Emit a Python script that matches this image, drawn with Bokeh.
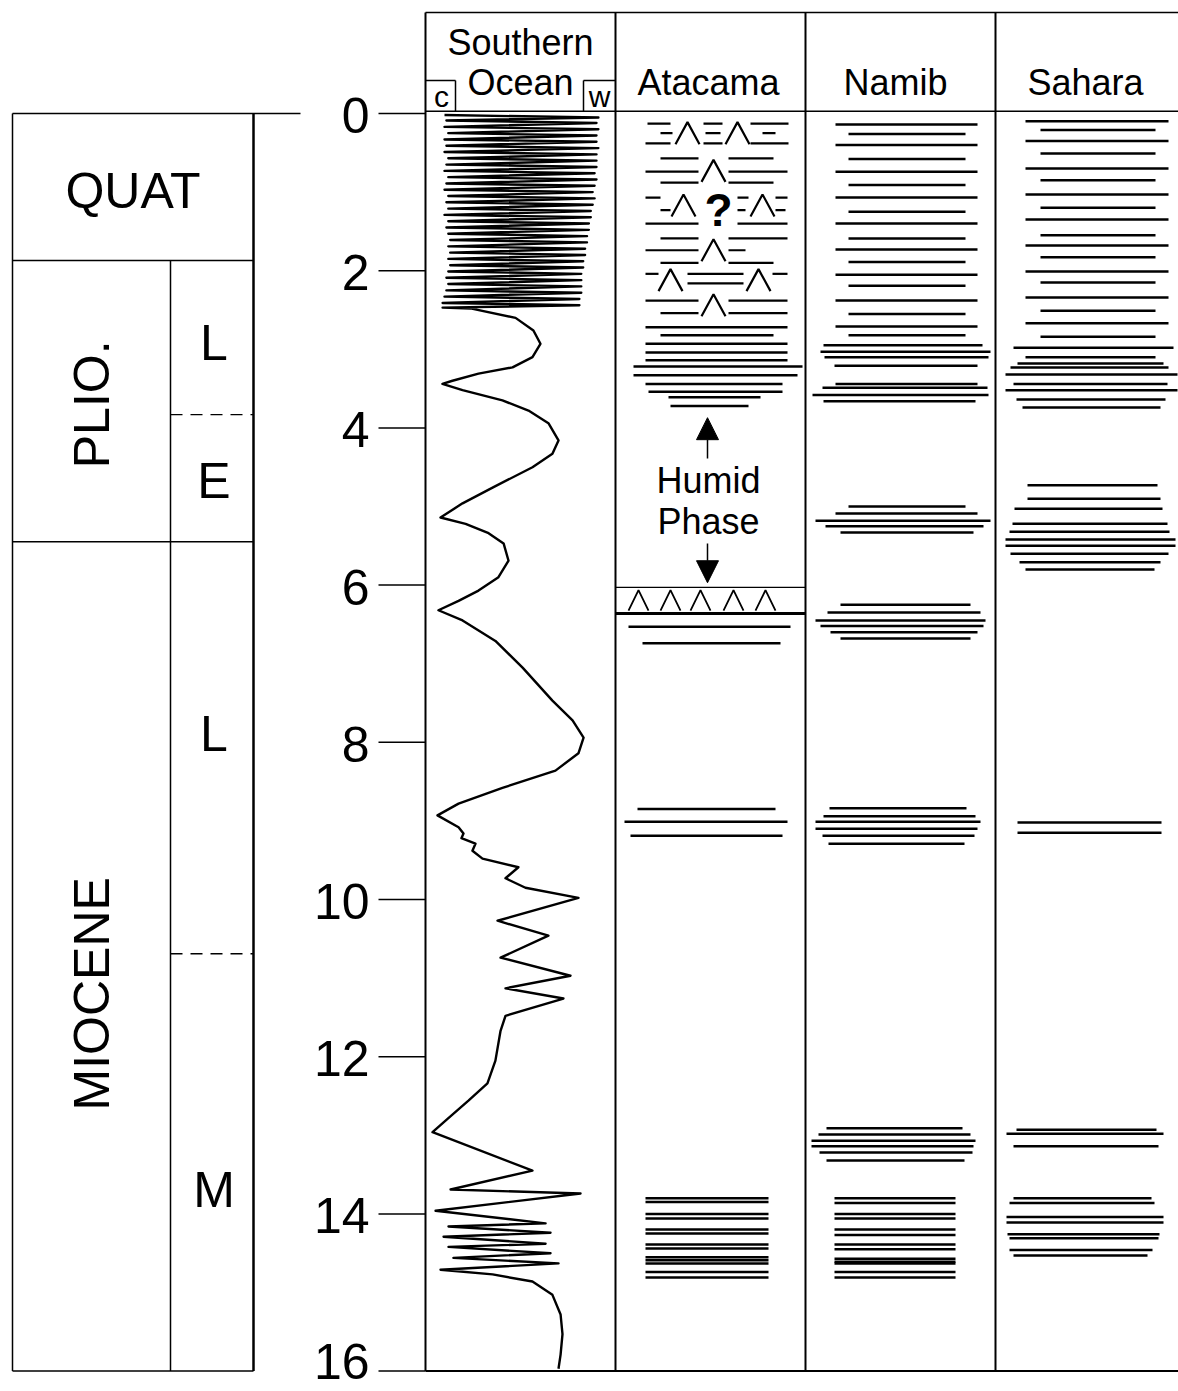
from math import pi
from bokeh.plotting import figure
from bokeh.models import Range1d, Arrow, NormalHead
from bokeh.core.properties import value
from bokeh.embed import file_html
from bokeh.resources import INLINE

# ------------------------------------------------------------------ data
tick_ages = [0, 2, 4, 6, 8, 10, 12, 14, 16]
tick_labels = ["0", "2", "4", "6", "8", "10", "12", "14", "16"]

epoch_names = ["QUAT", "PLIO.", "MIOCENE"]
epoch_bounds = [0.0, 1.87, 5.45, 16.0]
epoch_label_age = [0.98, 3.70, 11.2]
sub_names = ["L", "E", "L", "M"]
sub_label_age = [2.92, 4.68, 7.9, 13.7]
sub_dash_age = [3.83, 10.69]

site_names = ["Atacama", "Namib", "Sahara"]

# Southern Ocean record: age (Ma) and index (0 = cold "c" ... 100 = warm "w")
so_age = [0.02, 0.05, 0.09, 0.12, 0.17, 0.20, 0.25, 0.28, 0.33, 0.36, 0.41, 0.44,
          0.49, 0.52, 0.57, 0.60, 0.65, 0.68, 0.73, 0.76, 0.81, 0.84, 0.89, 0.92,
          0.97, 1.00, 1.05, 1.08, 1.13, 1.16, 1.21, 1.24, 1.29, 1.32, 1.37, 1.40,
          1.45, 1.48, 1.53, 1.56, 1.61, 1.64, 1.69, 1.72, 1.77, 1.80, 1.85, 1.88,
          1.93, 1.96, 2.01, 2.04, 2.09, 2.12, 2.17, 2.20, 2.25, 2.28, 2.33, 2.36,
          2.41, 2.44, 2.47,
          2.48, 2.60, 2.76, 2.93, 3.10, 3.23, 3.31, 3.40, 3.44,
          3.52, 3.65, 3.78, 3.94, 4.16, 4.33, 4.50, 4.76, 4.96, 5.14,
          5.22, 5.34, 5.47, 5.69, 5.90, 6.07, 6.20, 6.32,
          6.45, 6.71, 7.05, 7.47, 7.72, 7.94, 8.14, 8.36, 8.58, 8.78, 8.93,
          9.08, 9.16, 9.22, 9.29, 9.38, 9.48, 9.59, 9.73, 9.85, 9.98, 10.27, 10.46,
          10.74, 10.97, 11.13, 11.26, 11.48, 11.67, 12.05, 12.34, 12.56, 12.79, 12.96,
          13.45, 13.69, 13.74, 13.96, 14.12, 14.16, 14.24, 14.29, 14.38, 14.42, 14.50,
          14.56, 14.63, 14.71, 14.77, 14.86, 15.03, 15.28, 15.53, 15.79, 15.97]
so_val = [10, 91, 11, 90, 10, 91, 12, 90, 10, 90, 11, 91,
          10, 90, 12, 90, 11, 90, 10, 89, 12, 90, 11, 89,
          10, 88, 12, 89, 11, 88, 12, 87, 10, 87, 12, 86,
          11, 86, 12, 85, 13, 85, 12, 84, 13, 84, 12, 83,
          13, 83, 12, 82, 11, 82, 12, 82, 11, 82, 10, 81,
          9, 81, 9,
          23.7, 47.4, 56.8, 60.5, 56.3, 45.8, 27.9, 14.2, 8.9,
          19.5, 40.5, 54.2, 64.7, 70.0, 66.8, 56.3, 35.3, 19.5, 7.9,
          21.1, 33.2, 41.1, 43.7, 38.4, 27.9, 17.4, 6.8,
          19.5, 36.8, 51.1, 66.8, 77.4, 83.2, 80.5, 68.4, 40.5, 17.4, 6.3,
          17.4, 20.0, 18.9, 26.3, 24.7, 30.0, 48.9, 42.1, 52.6, 80.5, 37.9, 64.7,
          39.5, 76.3, 42.1, 72.6, 42.1, 39.5, 36.8, 32.6, 22.6, 11.6, 3.7,
          56.3, 13.2, 81.6, 5.3, 63.2, 12.1, 65.8, 9.5, 63.2, 12.1, 65.8,
          14.7, 70.0, 7.9, 35.3, 56.3, 66.8, 71.1, 72.1, 71.1, 70.0]

# Atacama: layers (age, left/right extent within column, px from column edge)
ata_age = [2.72, 2.82, 2.93, 3.04, 3.14, 3.22, 3.33, 3.44, 3.54, 3.61, 3.72,
           6.53, 6.74, 8.85, 9.01, 9.19,
           13.80, 13.85, 14.00, 14.06, 14.20, 14.25, 14.39, 14.44, 14.55, 14.59,
           14.63, 14.74, 14.81]
ata_l = [30, 45, 30, 30, 30, 18, 18, 30, 33, 53, 55,
         13, 27, 22, 9, 15,
         30, 30, 30, 30, 30, 30, 30, 30, 30, 30, 30, 30, 30]
ata_r = [172, 158, 172, 172, 172, 187, 182, 167, 167, 145, 133,
         175, 165, 160, 172, 167,
         153, 153, 153, 153, 153, 153, 153, 153, 153, 153, 153, 153, 153]
# Atacama evaporite dashes (upper 2.5 Ma)
ata_dash_age = [0.13, 0.13, 0.13, 0.25, 0.25, 0.25, 0.38, 0.38, 0.38,
                0.57, 0.57, 0.74, 0.74, 0.88, 0.88,
                1.07, 1.07, 1.07, 1.23, 1.23, 1.23, 1.40, 1.40,
                1.59, 1.59, 1.74, 1.74, 1.90, 1.90,
                2.04, 2.04, 2.04, 2.16,
                2.38, 2.38, 2.54, 2.54]
ata_dash_l = [32, 88, 135, 45, 90, 147, 30, 88, 135,
              45, 113, 30, 113, 45, 113,
              30, 122, 160, 45, 122, 160, 30, 122,
              45, 113, 30, 113, 45, 113,
              30, 72, 157, 72,
              30, 113, 45, 113]
ata_dash_r = [55, 107, 173, 57, 105, 160, 55, 107, 173,
              83, 158, 83, 172, 83, 158,
              45, 133, 172, 55, 130, 170, 83, 172,
              83, 172, 83, 130, 83, 158,
              43, 128, 172, 128,
              83, 172, 83, 172]
ata_chev_age = [0.25, 0.25, 0.73, 1.17, 1.17, 1.74, 2.12, 2.12, 2.44]
ata_chev_x = [72, 122, 98, 68, 147, 98, 55, 143, 98]
ata_bed_top, ata_bed_base = 6.03, 6.36
ata_bed_chev_x = [23, 55, 85, 118, 150]

# Namib layers
nam_age = [0.14, 0.26, 0.40, 0.58, 0.74, 0.91, 1.07, 1.25, 1.40, 1.59, 1.73, 1.89,
           2.05, 2.19, 2.38, 2.55, 2.71, 2.82, 2.95, 3.03, 3.10, 3.21, 3.44, 3.49,
           3.58, 3.66,
           5.00, 5.09, 5.18, 5.25, 5.33,
           6.25, 6.35, 6.45, 6.52, 6.60, 6.68,
           8.84, 8.94, 9.01, 9.10, 9.19, 9.29,
           12.91, 12.99, 13.07, 13.14, 13.22, 13.32,
           13.80, 13.86, 14.00, 14.06, 14.20, 14.27, 14.39, 14.45, 14.57, 14.61,
           14.63, 14.74, 14.81]
nam_l = [30, 43, 30, 43, 30, 43, 30, 43, 30, 43, 30, 43,
         30, 43, 30, 43, 30, 43, 18, 15, 19, 29, 30, 17, 7, 18,
         43, 30, 10, 20, 35,
         35, 22, 10, 15, 25, 35,
         24, 18, 10, 10, 17, 23,
         21, 13, 6, 6, 14, 21,
         29, 29, 29, 29, 29, 29, 29, 29, 29, 29, 29, 29, 29]
nam_r = [172, 160, 172, 160, 172, 160, 172, 160, 172, 160, 172, 160,
         172, 160, 172, 160, 172, 160, 177, 185, 183, 172, 172, 182, 183, 170,
         160, 172, 185, 178, 168,
         165, 175, 180, 178, 172, 165,
         161, 170, 175, 172, 169, 159,
         157, 165, 170, 168, 167, 159,
         150, 150, 150, 150, 150, 150, 150, 150, 150, 150, 150, 150, 150]

# Sahara layers
sah_age = [0.10, 0.21, 0.35, 0.51, 0.70, 0.85, 1.03, 1.20, 1.35, 1.55, 1.68, 1.83,
           2.01, 2.15, 2.34, 2.51, 2.67, 2.84, 2.98, 3.10, 3.18, 3.23, 3.32, 3.44,
           3.52, 3.64, 3.74,
           4.73, 4.90, 5.03, 5.22, 5.32, 5.42, 5.50, 5.60, 5.71, 5.80,
           9.02, 9.15,
           12.93, 12.98, 13.14,
           13.80, 13.86, 14.04, 14.11, 14.26, 14.31, 14.46, 14.53]
sah_l = [30, 45, 30, 45, 30, 45, 30, 45, 30, 45, 30, 45,
         30, 45, 30, 45, 30, 45, 18, 30, 22, 15, 10, 18, 10, 21, 27,
         32, 32, 19, 17, 14, 10, 10, 15, 24, 30,
         22, 22,
         21, 11, 18,
         18, 14, 11, 11, 12, 14, 14, 18]
sah_r = [173, 160, 173, 160, 173, 160, 173, 160, 173, 160, 173, 160,
         173, 160, 173, 160, 173, 160, 178, 160, 168, 173, 182, 172, 182, 170, 165,
         162, 165, 167, 172, 174, 180, 180, 173, 165, 159,
         166, 166,
         161, 168, 163,
         156, 159, 168, 168, 164, 163, 157, 152]

# ------------------------------------------------------------------ layout
W, H = 1178, 1391
PX = 78.6          # pixels per Myr
Y0 = 113           # pixel row of 0 Ma
top_age = -Y0 / PX
bot_age = (H - Y0) / PX
COLS = [425, 615, 805, 995]
RIGHT = W
HEAD_TOP = -1.285
HEAD_BASE = -0.03
FONT = value("Liberation Sans")

p = figure(width=W, height=H, x_range=Range1d(0, W),
           y_range=Range1d(bot_age, top_age),
           output_backend="svg", toolbar_location=None, min_border=0,
           x_axis_location=None, y_axis_location=None)
p.outline_line_color = None
p.grid.visible = False
p.background_fill_color = "white"
p.border_fill_color = "white"

# Southern Ocean index -> pixel scale (0 at column edge, 100 at next edge)
so_scale = (COLS[1] - COLS[0]) / 100.0
p.extra_x_ranges = {"so": Range1d(-COLS[0] / so_scale, (W - COLS[0]) / so_scale)}

K = "black"

# ---- left chronostratigraphic column
LX0, LX1, LXM = 12, 253, 170
p.segment(x0=[LX0], y0=[0], x1=[300], y1=[0], line_color=K, line_width=1.5)
p.segment(x0=[LX0] * 3, y0=epoch_bounds[1:], x1=[LX1] * 3, y1=epoch_bounds[1:],
          line_color=K, line_width=1.5)
p.segment(x0=[LX0], y0=[0], x1=[LX0], y1=[16], line_color=K, line_width=1.5)
p.segment(x0=[LX1], y0=[0], x1=[LX1], y1=[16], line_color=K, line_width=2.5)
p.segment(x0=[LXM], y0=[epoch_bounds[1]], x1=[LXM], y1=[16], line_color=K, line_width=1.5)
p.segment(x0=[LXM] * 2, y0=sub_dash_age, x1=[LX1] * 2, y1=sub_dash_age,
          line_color=K, line_width=1.3, line_dash="12 8")
p.text(x=[(LX0 + LX1) / 2], y=[epoch_label_age[0]], text=[epoch_names[0]],
       text_font=FONT, text_font_size="50px", text_align="center", text_baseline="middle")
p.text(x=[(LX0 + LXM) / 2] * 2, y=epoch_label_age[1:], text=epoch_names[1:],
       text_font=FONT, text_font_size="50px", text_align="center", text_baseline="middle",
       angle=pi / 2)
p.text(x=[(LXM + LX1) / 2 + 2] * 4, y=sub_label_age, text=sub_names,
       text_font=FONT, text_font_size="50px", text_align="center", text_baseline="middle")

# ---- age ticks
p.segment(x0=[378] * len(tick_ages), y0=tick_ages, x1=[COLS[0]] * len(tick_ages), y1=tick_ages,
          line_color=K, line_width=1.5)
label_shift = [2] * (len(tick_ages) - 1) + [-10]   # keep the last label inside the page
p.text(x=[369] * len(tick_ages), y=tick_ages, text=tick_labels, text_font=FONT,
       text_font_size="50px", text_align="right", text_baseline="middle",
       y_offset=label_shift)

# ---- column frame
p.segment(x0=COLS, y0=[HEAD_TOP] * 4, x1=COLS, y1=[16] * 4, line_color=K, line_width=2)
p.segment(x0=[COLS[0]] * 3, y0=[HEAD_TOP, HEAD_BASE, 16], x1=[RIGHT] * 3,
          y1=[HEAD_TOP, HEAD_BASE, 16], line_color=K, line_width=[1.5, 1.5, 2])

# headers
p.text(x=[520, 520], y=[-0.90, -0.39], text=["Southern", "Ocean"], text_font=FONT,
       text_font_size="36px", text_align="center", text_baseline="middle")
p.text(x=[708, 895, 1085], y=[-0.39] * 3, text=site_names, text_font=FONT,
       text_font_size="36px", text_align="center", text_baseline="middle")
# c / w boxes
p.segment(x0=[COLS[0], 455, 583, 583], y0=[-0.42, -0.42, -0.42, -0.42],
          x1=[455, 455, COLS[1], 583], y1=[-0.42, HEAD_BASE, -0.42, HEAD_BASE],
          line_color=K, line_width=1.5)
p.text(x=[441, 599], y=[-0.22, -0.22], text=["c", "w"], text_font=FONT,
       text_font_size="30px", text_align="center", text_baseline="middle")

# ---- Southern Ocean curve
p.line(x=so_val, y=so_age, x_range_name="so", line_color=K, line_width=2.4,
       line_join="round")


def layers(base, ages, lefts, rights, lw=2.5):
    p.segment(x0=[base + v for v in lefts], y0=ages,
              x1=[base + v for v in rights], y1=ages, line_color=K, line_width=lw)


def chevrons(base, ages, xs, half_w=12, half_h=0.14, lw=2.2):
    p.multi_line(xs=[[base + x - half_w, base + x, base + x + half_w] for x in xs],
                 ys=[[a + half_h, a - half_h, a + half_h] for a in ages],
                 line_color=K, line_width=lw)


# ---- Atacama
A = COLS[1]
layers(A, ata_age, ata_l, ata_r)
layers(A, ata_dash_age, ata_dash_l, ata_dash_r, lw=2.2)
chevrons(A, ata_chev_age, ata_chev_x)
p.text(x=[A + 103], y=[1.23], text=["?"], text_font=FONT, text_font_size="46px",
       text_font_style="bold", text_align="center", text_baseline="middle")
p.segment(x0=[A, A], y0=[ata_bed_top, ata_bed_base], x1=[COLS[2], COLS[2]],
          y1=[ata_bed_top, ata_bed_base], line_color=K, line_width=[1.3, 3])
chevrons(A, [(ata_bed_top + ata_bed_base) / 2] * 5, ata_bed_chev_x, half_w=10, half_h=0.13, lw=1.8)
p.text(x=[A + 93, A + 93], y=[4.67, 5.19], text=["Humid", "Phase"], text_font=FONT,
       text_font_size="36px", text_align="center", text_baseline="middle")
p.add_layout(Arrow(end=NormalHead(size=22, fill_color=K, line_color=K),
                   x_start=A + 92, y_start=4.39, x_end=A + 92, y_end=3.87,
                   line_color=K, line_width=1.5))
p.add_layout(Arrow(end=NormalHead(size=22, fill_color=K, line_color=K),
                   x_start=A + 92, y_start=5.47, x_end=A + 92, y_end=5.97,
                   line_color=K, line_width=1.5))

# ---- Namib, Sahara
layers(COLS[2], nam_age, nam_l, nam_r)
layers(COLS[3], sah_age, sah_l, sah_r)

with open("out.html", "w") as f:
    f.write(file_html(p, INLINE))
